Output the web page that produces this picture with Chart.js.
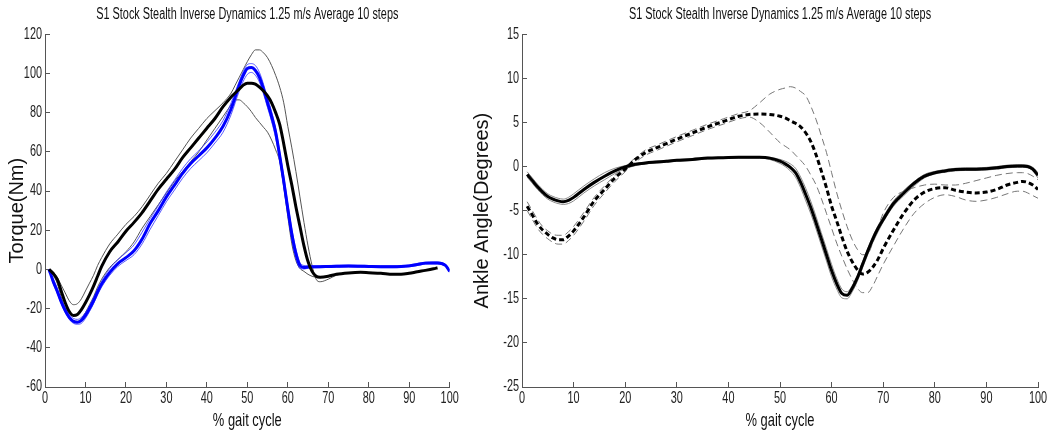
<!DOCTYPE html>
<html>
<head>
<meta charset="utf-8">
<script src="https://cdn.jsdelivr.net/npm/chart.js@4.4.1/dist/chart.umd.min.js"></script>
<style>
  html, body { margin: 0; padding: 0; background: #fff; }
  #wrap { position: relative; width: 1062px; height: 434px; overflow: hidden; }
  #torque { position: absolute; left: 0; top: 0; }
  #angle { position: absolute; left: 470px; top: 0; }
</style>
</head>
<body>
<div id="wrap">
  <canvas id="torque" width="470" height="434"></canvas>
  <canvas id="angle" width="592" height="434"></canvas>
</div>
<script>
// ---- data ----
const chartTitle = 'S1 Stock Stealth Inverse Dynamics 1.25 m/s Average 10 steps';
const gaitTicks = [0, 10, 20, 30, 40, 50, 60, 70, 80, 90, 100];
const torqueTicks = [-60, -40, -20, 0, 20, 40, 60, 80, 100, 120];
const angleTicks = [-25, -20, -15, -10, -5, 0, 5, 10, 15];

// left panel: torque
const leftPct = [1,2,3,4,5,6,7,8,9,10,11,12,13,14,16,18,20,22,24,26,28,30,32,34,36,38,40,42,44,46,
  47,48,49,50,51,52,53,54,55,56,57,58,59,60,61,62,63,64,65,66,67,68,70,72,75,78,80,83,86,88,90,92,94,96,97,98,99,100];

const torqueBlackMean = [0,-2,-5,-11,-17,-21.5,-23.5,-23,-20.5,-17,-13,-8.5,-3.5,1.5,9,14,19.5,24,29,35,41,46,51,57,62,67,72,77,83,88,
  90,92,94,95,95,94.5,93,91,88.5,85,80,74,64,53,43,32,22,12,4,-1,-3.5,-4,-3.5,-2.5,-1.8,-1.5,-1.7,-2,-2.5,-2.5,-2,-1.2,-0.5,0.3,0.8,null,null,null];
const torqueBlackHi = [0,-1.5,-4,-8,-12,-16,-18,-17.5,-15,-11,-7,-3,2,6,13,18,23,27,32,38,44,49,55,61,67,72,77,81,85,90,
  94,98,102,106,109.5,112,112,110.5,108,104,99,93,85,73,62,50,37,24,12,2,-5,-6.3,-5,-3,-1.8,null,null,null,null,null,null,null,null,null,null,null,null,null];
const torqueBlackLo = [0,-3,-7,-14,-20,-24,-26,-26.5,-25,-22,-18,-14,-9,-5,1,5,9,14,21,27,33,39,45,50,55,60,66,72,78,84,
  86.5,86.5,85,83,80.5,77.5,75,72.5,70,66,61,55,42,27,13,4.5,0.5,-1,-2.5,-3.5,-4,-4.2,-3.5,-2.5,-1.8,null,null,null,null,null,null,null,null,null,null,null,null,null];

const torqueBlueMean = [0,-6,-11,-16.5,-21,-24.5,-26.5,-27,-26,-23.5,-20,-16,-11.5,-7.5,-1.5,3,6,9.5,15.5,23.5,30,37,43,49,54,58,62,67,73,82,
  88,94,99,102.5,103,101.5,98,92,85,78,70,58,45,31,18,8,2,1,1.2,1.3,1.3,1.4,1.5,1.6,1.7,1.6,1.5,1.4,1.4,1.5,1.8,2.5,3.2,3.3,3.3,3,2,-1];
const torqueBlueHi = [0,-4.5,-9.5,-15,-19.5,-23,-25,-25.5,-24.5,-22,-18.5,-14.5,-10,-6,0.5,5,8.5,12.5,19,26,32.5,39.5,45.5,51.5,56.5,60.5,65,70,76,85,
  90.5,96,101,104.5,105,104,100.5,94.5,87.5,80.5,72,60,47.5,33.5,20.5,10.5,3.5,2,1.8,1.8,1.8,1.9,2,2.1,2.2,2.1,2,1.9,1.9,2,2.3,3,3.7,3.8,3.8,3.5,2.5,-0.5];
const torqueBlueLo = [0,-7,-12,-17.5,-22,-25.5,-27.5,-28,-27.5,-25,-21.5,-17.5,-13,-9,-3,1.5,4.5,7.5,13,20.5,27.5,34.5,40.5,46.5,51.5,55.5,59.5,64.5,70,79,
  85,91,96,99.5,100.5,99,95.5,89.5,82.5,75.5,67,56,42.5,28.5,15.5,5.5,0.5,0.2,0.6,0.8,0.8,0.9,1,1.1,1.2,1.1,1,0.9,0.9,1,1.3,2,2.7,2.8,2.8,2.5,1.5,-1.5];

// right panel: ankle angle
const rightPct = [1,2,3,4,5,6,7,8,9,10,12,14,16,18,20,22,24,26,28,30,33,36,39,42,44,46,48,50,
  51,52,53,54,55,56,57,58,59,60,61,62,63,64,65,66,67,68,69,70,72,74,76,78,80,82,84,86,88,90,92,94,96,97,98,99,100];

const angleSolidMean = [-0.9,-1.6,-2.3,-2.9,-3.4,-3.7,-3.9,-4.0,-3.85,-3.5,-2.6,-1.8,-1.1,-0.5,-0.05,0.25,0.4,0.5,0.6,0.7,0.8,0.95,1.0,1.05,1.06,1.05,0.95,0.6,
  0.3,-0.1,-0.7,-1.8,-3.2,-4.7,-6.4,-8.2,-10,-11.8,-13.3,-14.4,-14.6,-13.8,-12.6,-11.1,-9.6,-8.2,-7.0,-6.0,-4.2,-3.0,-1.9,-1.1,-0.7,-0.5,-0.35,-0.3,-0.3,-0.25,-0.15,0,0.05,0.05,0,-0.3,-1];
const angleSolidHi = [-0.6,-1.3,-2.0,-2.6,-3.1,-3.4,-3.6,-3.7,-3.5,-3.1,-2.2,-1.4,-0.7,-0.2,0.1,0.35,0.5,0.6,0.7,0.8,0.9,1.0,1.05,1.1,1.1,1.1,1.05,0.8,
  0.6,0.3,-0.2,-1.2,-2.5,-4.0,-5.7,-7.5,-9.3,-11.1,-12.7,-13.9,-14.2,-13.5,-12.3,-10.8,-9.3,-7.9,-6.7,-5.7,-3.9,-2.7,-1.7,-0.9,-0.55,-0.35,-0.2,-0.15,-0.15,-0.1,0,0.15,0.2,0.2,0.15,-0.1,-0.7];
const angleSolidLo = [-1.2,-1.9,-2.6,-3.2,-3.7,-4.0,-4.2,-4.3,-4.2,-3.9,-3.0,-2.2,-1.5,-0.8,-0.25,0.1,0.3,0.4,0.5,0.6,0.7,0.85,0.9,0.95,0.95,0.95,0.8,0.35,
  0,-0.5,-1.2,-2.4,-3.9,-5.4,-7.1,-8.9,-10.7,-12.5,-13.9,-14.9,-15.0,-14.2,-13.0,-11.5,-10.0,-8.6,-7.4,-6.3,-4.5,-3.3,-2.2,-1.3,-0.85,-0.65,-0.5,-0.45,-0.45,-0.4,-0.3,-0.15,-0.1,-0.1,-0.15,-0.5,-1.3];

const angleDashMean = [-4.5,-5.5,-6.5,-7.2,-7.7,-8.1,-8.3,-8.3,-7.9,-7.3,-5.7,-3.9,-2.6,-1.3,-0.3,0.8,1.6,2.1,2.6,3.1,3.8,4.5,5.1,5.7,5.9,5.95,5.9,5.7,
  5.5,5.2,4.9,4.5,3.8,2.8,1.3,-0.5,-2.4,-4.5,-6.2,-8.0,-9.6,-10.8,-11.7,-12.2,-12.0,-11.4,-10.5,-9.3,-7.2,-5.3,-3.8,-2.9,-2.5,-2.4,-2.7,-2.9,-3.0,-2.9,-2.6,-2.1,-1.8,-1.7,-1.8,-2.1,-2.6];
const angleDashHi = [-4.0,-5.0,-6.0,-6.8,-7.3,-7.7,-7.8,-7.8,-7.4,-6.8,-5.2,-3.5,-2.2,-1.0,0,1.0,1.9,2.4,2.9,3.4,4.1,4.8,5.4,6.0,6.3,7.2,8.2,8.75,
  8.9,9.05,8.9,8.5,8.0,6.8,5.3,3.5,1.6,-0.7,-3.0,-5.0,-6.8,-8.3,-9.4,-10.0,-9.9,-8.6,-6.9,-5.3,-3.5,-2.8,-2.4,-2.1,-2.0,-2.1,-2.1,-1.9,-1.6,-1.3,-1.0,-0.8,-0.7,-0.7,-0.8,-1.1,-1.5];
const angleDashLo = [-5.0,-6.0,-7.0,-7.7,-8.2,-8.6,-8.8,-8.8,-8.4,-7.8,-6.2,-4.4,-3.0,-1.7,-0.6,0.5,1.3,1.8,2.3,2.8,3.5,4.2,4.8,5.4,5.6,5.0,3.9,2.7,
  2.3,1.9,1.3,0.7,0,-1.0,-2.1,-3.6,-5.3,-7.0,-8.7,-10.2,-11.6,-12.8,-13.8,-14.3,-14.3,-13.5,-12.3,-11.1,-9.0,-7.0,-5.3,-4.2,-3.5,-3.2,-3.4,-3.8,-3.95,-3.8,-3.5,-3.1,-2.8,-2.8,-3.0,-3.3,-3.6];

// ---- helpers ----
const FONT = "'Liberation Sans', Arial, sans-serif";
const AXIS = '#555';

const pts = (xs, ys) => xs.map((x, i) => ({ x, y: ys[i] }));

function line(xs, ys, color, width, dash) {
  return {
    data: pts(xs, ys),
    borderColor: color,
    borderWidth: width,
    borderDash: dash || [],
    pointRadius: 0,
    fill: false,
    cubicInterpolationMode: 'monotone',
    spanGaps: false,
  };
}

// the source figure has horizontally condensed text; squeeze upright text the same way
const squeeze = {
  id: 'squeeze',
  beforeInit(chart) {
    const ctx = chart.ctx;
    const fill = ctx.fillText;
    ctx.fillText = function (text, x, y, maxWidth) {
      const m = this.getTransform();
      if (m.b !== 0 || m.c !== 0) return fill.call(this, text, x, y, maxWidth);
      this.save();
      this.translate(x, y);
      this.scale(0.68, 1);
      fill.call(this, text, 0, 0);
      this.restore();
    };
  }
};

function axes(yTicks, yTitle, yWidth, yTitlePad) {
  return {
    x: {
      type: 'linear',
      min: gaitTicks[0],
      max: gaitTicks[gaitTicks.length - 1],
      afterFit: s => { s.height = 47; },
      afterBuildTicks: s => { s.ticks = gaitTicks.map(v => ({ value: v })); },
      grid: { drawOnChartArea: false, drawTicks: true, tickLength: -5, color: AXIS },
      border: { display: true, color: AXIS },
      ticks: { font: { family: FONT, size: 16 }, color: '#222', padding: 7, maxRotation: 0, autoSkip: false },
      title: { display: true, text: '% gait cycle', font: { family: FONT, size: 19 }, color: '#111', padding: { top: 0, bottom: 2 } },
    },
    y: {
      type: 'linear',
      min: yTicks[0],
      max: yTicks[yTicks.length - 1],
      afterFit: s => { s.width = yWidth; },
      afterBuildTicks: s => { s.ticks = yTicks.map(v => ({ value: v })); },
      grid: { drawOnChartArea: false, drawTicks: true, tickLength: -5, color: AXIS },
      border: { display: true, color: AXIS },
      ticks: { font: { family: FONT, size: 16 }, color: '#222', padding: 8, autoSkip: false },
      title: { display: true, text: yTitle, font: { family: FONT, size: 20 }, color: '#111', padding: { top: yTitlePad, bottom: 0 } },
    },
  };
}

function baseOptions(padRight, scales) {
  return {
    responsive: false,
    animation: false,
    devicePixelRatio: 1,
    layout: { padding: { top: 0, right: padRight, bottom: 0, left: 0 } },
    plugins: {
      legend: { display: false },
      tooltip: { enabled: false },
      title: {
        display: true,
        text: chartTitle,
        fullSize: false,
        font: { family: FONT, size: 16, weight: 'normal' },
        color: '#111',
        padding: { top: 5, bottom: 10 },
      },
    },
    scales,
  };
}

// ---- left: torque ----
new Chart(document.getElementById('torque').getContext('2d'), {
  type: 'line',
  data: {
    datasets: [
      line(leftPct, torqueBlackMean, '#000', 3),
      line(leftPct, torqueBlueMean, '#0000ff', 3),
      line(leftPct, torqueBlueHi, 'rgba(50,50,255,0.8)', 1),
      line(leftPct, torqueBlueLo, 'rgba(50,50,255,0.8)', 1),
      line(leftPct, torqueBlackHi, '#555', 1),
      line(leftPct, torqueBlackLo, '#555', 1),
    ]
  },
  options: baseOptions(13, axes(torqueTicks, 'Torque(Nm)', 45, 5)),
  plugins: [squeeze],
});

// ---- right: ankle angle ----
new Chart(document.getElementById('angle').getContext('2d'), {
  type: 'line',
  data: {
    datasets: [
      line(rightPct, angleSolidMean, '#000', 3),
      line(rightPct, angleDashMean, '#000', 3, [5, 3]),
      line(rightPct, angleSolidHi, '#888', 1),
      line(rightPct, angleSolidLo, '#888', 1),
      line(rightPct, angleDashHi, '#777', 1, [7, 4]),
      line(rightPct, angleDashLo, '#777', 1, [7, 4]),
    ]
  },
  options: baseOptions(24, axes(angleTicks, 'Ankle Angle(Degrees)', 52, 0)),
  plugins: [squeeze],
});
</script>
</body>
</html>
